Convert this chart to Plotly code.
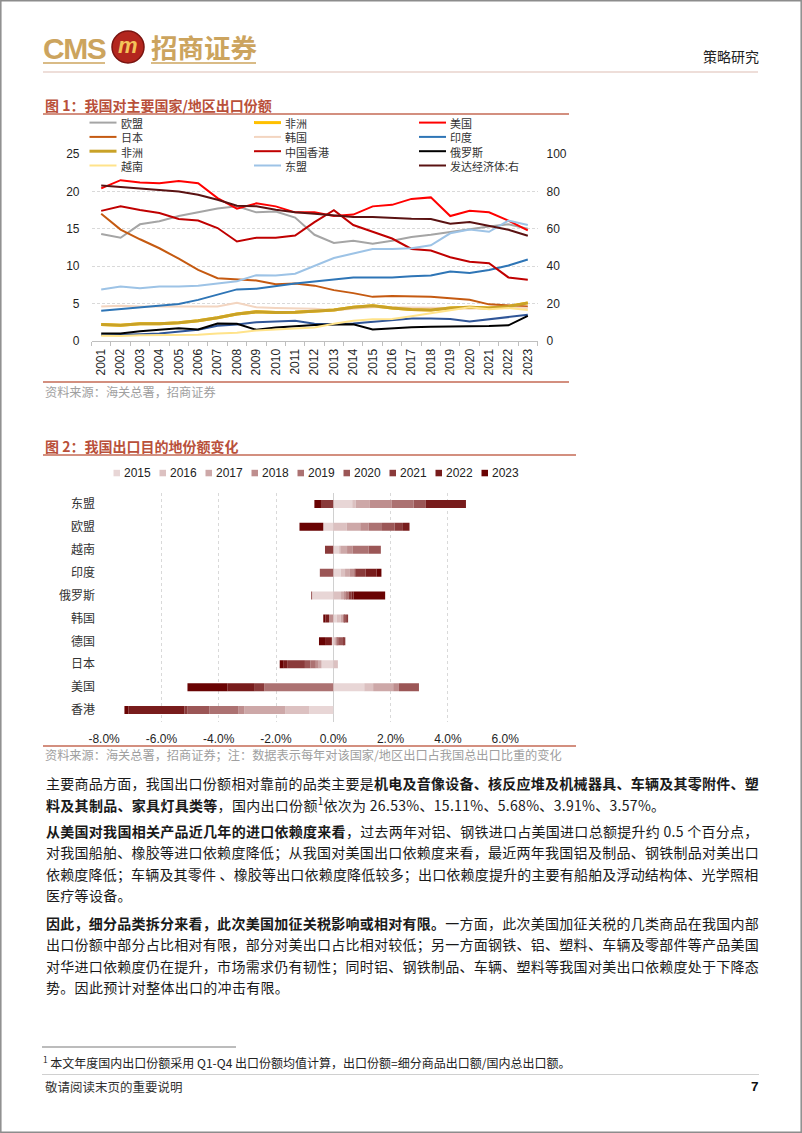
import re
import plotly.graph_objects as go

W, H = 802, 1133
def px(x): return x / W
def py(y): return 1 - y / H

CJK = "Noto Sans CJK SC"
ARIAL = "Liberation Sans, Arial"

# ---------------- Figure 1 data (share of China's exports, %) ----------------
years1 = [str(y) for y in range(2001, 2024)]
eu        = [14.3,13.8,15.6,16.0,16.7,17.2,17.7,18.0,17.2,17.3,16.5,14.2,13.1,13.4,13.0,13.4,13.9,14.2,14.6,15.0,15.3,15.6,15.0]
africa    = [2.2,2.1,2.3,2.3,2.45,2.7,3.1,3.6,3.9,3.8,3.85,4.05,4.15,4.5,4.7,4.4,4.2,4.15,4.4,4.5,4.4,4.6,5.1]
us        = [20.4,21.5,21.2,21.1,21.4,21.1,19.1,17.7,18.4,18.0,17.2,17.2,16.7,16.9,18.0,18.2,19.0,19.2,16.7,17.4,17.2,16.1,14.8]
japan     = [17.0,14.9,13.6,12.4,11.0,9.5,8.4,8.2,8.1,7.6,7.7,7.4,6.8,6.4,5.9,6.0,6.0,5.9,5.7,5.5,4.9,4.8,4.6]
korea     = [4.6,4.7,4.6,4.65,4.6,4.6,4.6,5.1,4.5,4.4,4.4,4.3,4.1,4.3,4.5,4.5,4.5,4.4,4.4,4.3,4.4,4.5,4.4]
india     = [0.8,0.8,0.9,1.0,1.2,1.5,2.05,2.2,2.5,2.6,2.7,2.3,2.25,2.35,2.6,2.8,3.0,3.0,2.95,2.6,2.9,3.25,3.5]
blue_mid  = [4.05,4.3,4.5,4.7,4.95,5.5,6.25,6.9,7.0,7.4,7.7,7.95,8.2,8.5,8.5,8.5,8.65,8.75,9.3,9.1,9.5,10.1,10.9]
hongkong  = [17.4,18.0,17.5,17.1,16.3,16.1,15.1,13.3,13.8,13.8,14.1,15.9,17.5,15.5,14.6,13.7,12.3,12.1,11.2,10.6,10.4,8.5,8.2]
russia    = [1.0,1.0,1.3,1.5,1.7,1.55,2.35,2.3,1.5,1.8,2.0,2.15,2.2,2.25,1.55,1.7,1.85,1.9,1.9,1.9,2.0,2.1,3.35]
vietnam   = [0.7,0.67,0.76,0.76,0.76,0.85,1.0,1.1,1.4,1.5,1.6,1.8,2.3,2.7,2.9,2.95,3.3,3.7,4.1,4.5,4.25,4.4,4.15]
asean     = [6.9,7.3,7.05,7.3,7.3,7.4,7.7,8.0,8.8,8.75,9.0,10.1,11.1,11.7,12.3,12.3,12.4,12.8,14.4,14.9,14.6,16.1,15.5]
developed = [83.2,82.3,81.4,80.9,80.0,78.2,75.5,72.3,72.0,70.2,68.8,68.0,67.0,66.3,66.3,65.7,65.4,65.2,62.7,63.6,61.6,59.5,56.3]

# legend entries: name, data, colour, width, right-axis
series1 = [
    ("欧盟", eu, "#A5A5A5", 2, False),
    ("非洲", africa, "#FFC000", 3, False),
    ("美国", us, "#FF0000", 2, False),
    ("日本", japan, "#C55A11", 2, False),
    ("韩国", korea, "#F3D5C0", 2, False),
    ("印度", blue_mid, "#2E75B6", 2, False),
    ("非洲", africa, "#C9A227", 3, False),
    ("中国香港", hongkong, "#C00000", 2, False),
    ("俄罗斯", russia, "#000000", 2, False),
    ("越南", vietnam, "#FFE38A", 2, False),
    ("东盟", asean, "#9DC3E6", 2, False),
    ("发达经济体:右", developed, "#5A1212", 2, True),
]
extra1 = ("印度(2)", india, "#2F5597", 2, False)
draw_order = series1[:6] + [extra1] + series1[6:]

# ---------------- Figure 2 data (change in share, %) ----------------
countries = ["东盟", "欧盟", "越南", "印度", "俄罗斯", "韩国", "德国", "日本", "美国", "香港"]
years2 = ["2015", "2016", "2017", "2018", "2019", "2020", "2021", "2022", "2023"]
chg_2015 = [0.66, -0.35, 0.21, 0.26, -0.74, 0.12, -0.05, -0.41, 1.08, -0.84]
chg_2016 = [0.12, 0.47, 0.05, 0.15, 0.27, 0.14, 0.07, 0.16, 0.31, -0.83]
chg_2017 = [0.48, 0.47, 0.22, 0.17, 0.14, 0.09, 0.04, -0.10, 0.70, -1.44]
chg_2018 = [0.78, 0.29, 0.20, 0.15, 0.06, -0.15, 0.03, -0.10, 0.20, -0.21]
chg_2019 = [0.76, 0.47, 0.55, 0.05, 0.06, 0.05, 0.05, -0.19, -2.41, -1.00]
chg_2020 = [0.43, 0.44, 0.43, -0.47, -0.03, 0.05, 0.18, -0.19, 0.70, -0.78]
chg_2021 = [-0.43, 0.29, -0.29, 0.35, 0.10, 0.06, 0.05, -0.62, -0.33, -0.10]
chg_2022 = [1.40, 0.23, 0.00, 0.38, 0.08, -0.12, -0.21, -0.12, -0.95, -1.95]
chg_2023 = [-0.23, -0.83, 0.00, 0.17, 1.10, -0.08, -0.24, -0.14, -1.40, -0.14]
changes = [chg_2015, chg_2016, chg_2017, chg_2018, chg_2019, chg_2020, chg_2021, chg_2022, chg_2023]
colors2 = ["#E8D6D6", "#DCC1C1", "#CDA8A8", "#BE8E8E", "#AC7272", "#9B5656", "#8A3A3A", "#781C1C", "#690303"]
xticks2 = [-8, -6, -4, -2, 0, 2, 4, 6]
xticklabels2 = ["-8.0%", "-6.0%", "-4.0%", "-2.0%", "0.0%", "2.0%", "4.0%", "6.0%"]

fig = go.Figure()

for name, data, color, width, right in draw_order:
    fig.add_trace(go.Scatter(
        x=years1, y=data, name=name, mode="lines",
        line=dict(color=color, width=width),
        xaxis="x", yaxis="y2" if right else "y", showlegend=False))

for yr, vals, col in zip(years2, changes, colors2):
    fig.add_trace(go.Bar(
        y=countries, x=vals, name=yr, orientation="h",
        marker=dict(color=col, line=dict(width=0)),
        xaxis="x2", yaxis="y3", showlegend=False))

# ---------------- shapes & annotations ----------------
shapes = []
ann = []

def hline(x0, x1, y, color, width=1):
    shapes.append(dict(type="line", xref="paper", yref="paper",
                       x0=px(x0), x1=px(x1), y0=py(y), y1=py(y),
                       line=dict(color=color, width=width)))

def text(x, y, s, size=12, color="#000", family=CJK, xanchor="left", yanchor="middle"):
    ann.append(dict(x=px(x), y=py(y), xref="paper", yref="paper", text=s,
                    showarrow=False, xanchor=xanchor, yanchor=yanchor, align="left",
                    borderpad=0, font=dict(size=size, color=color, family=family)))

# page border
shapes.append(dict(type="rect", xref="paper", yref="paper", x0=0.001, x1=0.999, y0=0.0007, y1=0.9993,
                   line=dict(color="#8C8C8C", width=1.5)))

# header
gold = "#CCA45E"
text(42, 48, '<span style="letter-spacing:-1.5px"><b>CMS</b></span>', size=30, color=gold, family=ARIAL)
shapes.append(dict(type="circle", xref="paper", yref="paper",
                   x0=px(112), x1=px(144), y0=py(63), y1=py(31),
                   fillcolor="#B3261E", line=dict(color="#7A1410", width=1.5)))
text(128, 46, "<b><i>m</i></b>", size=22, color="#F4C35A", family=ARIAL, xanchor="center")
text(150, 47, "<b>招商证券</b>", size=26.5, color=gold)
hline(43, 105, 63, gold, 1.5)
hline(151, 256, 63, gold, 1.5)
text(760, 56, "策略研究", size=14, color="#222", xanchor="right")
hline(43, 758, 72, "#DDBDB3", 1)

# figure titles / rules
title_col = "#B9503A"
rule_col = "#C46A55"
text(43.5, 105.0, "<b>图 1：我国对主要国家/地区出口份额</b>", size=14, color=title_col)
hline(43, 569, 114, rule_col, 1.3)
hline(43, 569, 382, rule_col, 1.3)
text(43.5, 392, "资料来源：海关总署，招商证券", size=12.2, color="#A0A0A0")

text(43.5, 446.5, "<b>图 2：我国出口目的地份额变化</b>", size=14, color=title_col)
hline(43, 576, 455, rule_col, 1.3)
hline(43, 576, 746, rule_col, 1.3)
text(43.5, 755, "资料来源：海关总署，招商证券；注：数据表示每年对该国家/地区出口占我国总出口比重的变化",
     size=12.2, color="#A0A0A0")

# figure 1 legend (3 columns x 4 rows); one text block per column
LEG_FS = 11
row_gap = 1.3 * LEG_FS
row0 = 122.6
col_x = [89.5, 254, 419]
for c in range(3):
    names = []
    for r in range(4):
        name, data, color, width, right = series1[r * 3 + c]
        yy = row0 + row_gap * r
        x0 = col_x[c]
        shapes.append(dict(type="line", xref="paper", yref="paper",
                           x0=px(x0), x1=px(x0 + 27), y0=py(yy), y1=py(yy),
                           line=dict(color=color, width=width)))
        names.append(name)
    text(col_x[c] + 30, row0 + row_gap * 1.5, "<br>".join(names), size=LEG_FS, color="#333")

# figure 2 legend (single row)
for i, (yr, col) in enumerate(zip(years2, colors2)):
    x0 = 113.5 + 46 * i
    shapes.append(dict(type="rect", xref="paper", yref="paper",
                       x0=px(x0), x1=px(x0 + 6.5), y0=py(476.3), y1=py(469.8),
                       fillcolor=col, line=dict(width=0)))
    text(x0 + 9, 473, yr, size=12, color="#222", family=ARIAL)

# body text
def units(s):
    s = re.sub(r"<[^>]+>", "", s)
    w = 0.0
    for ch in s:
        if ord(ch) >= 0x2E80 or ch in "，。、；：":
            w += 1.0
        elif ch.isdigit():
            w += 0.55
        elif ch == ".":
            w += 0.27
        elif ch == "%":
            w += 0.85
        elif ch == " ":
            w += 0.25
        else:
            w += 0.55
    return w, len(s)

FS = 14
LEFT, RIGHT = 44.5, 757
body = [
    ("主要商品方面，我国出口份额相对靠前的品类主要是<b>机电及音像设备、核反应堆及机械器具、车辆及其零附件、塑</b>", True, 783.5),
    ("<b>料及其制品、家具灯具类等</b>，国内出口份额<sup>1</sup>依次为 26.53%、15.11%、5.68%、3.91%、3.57%。", False, 804.8),
    ("<b>从美国对我国相关产品近几年的进口依赖度来看</b>，过去两年对铝、钢铁进口占美国进口总额提升约 0.5 个百分点，", True, 831.0),
    ("对我国船舶、橡胶等进口依赖度降低；从我国对美国出口依赖度来看，最近两年我国铝及制品、钢铁制品对美出口", True, 852.3),
    ("依赖度降低；车辆及其零件 、橡胶等出口依赖度降低较多；出口依赖度提升的主要有船舶及浮动结构体、光学照相", True, 873.6),
    ("医疗等设备。", False, 894.9),
    ("<b>因此，细分品类拆分来看，此次美国加征关税影响或相对有限。</b>一方面，此次美国加征关税的几类商品在我国内部", True, 923.0),
    ("出口份额中部分占比相对有限，部分对美出口占比相对较低；另一方面钢铁、铝、塑料、车辆及零部件等产品美国", True, 944.3),
    ("对华进口依赖度仍在提升，市场需求仍有韧性；同时铝、钢铁制品、车辆、塑料等我国对美出口依赖度处于下降态", True, 965.6),
    ("势。因此预计对整体出口的冲击有限。", False, 986.9),
]
for s, justify, yy in body:
    u, n = units(s)
    if justify:
        ls = (RIGHT - LEFT - u * FS) / max(n - 1, 1)
    else:
        ls = 0.3
    text(LEFT, yy, '<span style="letter-spacing:%.2fpx">%s</span>' % (ls, s), size=FS, color="#1A1A1A")

# footnote & footer
hline(42, 236, 1047, "#A6A6A6", 1.5)
text(42, 1062, "<sup>1</sup> 本文年度国内出口份额采用 Q1-Q4 出口份额均值计算，出口份额=细分商品出口额/国内总出口额。",
     size=12, color="#222")
hline(42, 759, 1074.5, "#D0D0D0", 1)
text(44, 1086, "敬请阅读末页的重要说明", size=12.5, color="#333")
text(760, 1086, "<b>7</b>", size=13.5, color="#111", family=ARIAL, xanchor="right")

# ---------------- layout ----------------
grid_col = "#D9D9D9"
tickfont = dict(size=12, color="#1F1F1F", family=ARIAL)
fig.update_layout(
    template="none",
    width=W, height=H, autosize=False,
    margin=dict(l=0, r=0, t=0, b=0, pad=0, autoexpand=False),
    paper_bgcolor="white", plot_bgcolor="rgba(0,0,0,0)",
    font=dict(family=CJK, size=12, color="#333"),
    showlegend=False, barmode="relative", bargap=0.65,
    shapes=shapes, annotations=ann,
    xaxis=dict(domain=[px(91.5), px(537.5)], anchor="y", type="category", automargin=False,
               range=[-0.5, 22.5], showline=True, linecolor="#BFBFBF", linewidth=1,
               ticks="outside", ticklen=4, tickcolor="#BFBFBF", tickson="boundaries",
               tickangle=-90, tickfont=tickfont, showgrid=False, ticklabelstandoff=2),
    yaxis=dict(domain=[py(341), py(154)], anchor="x", range=[0, 25], dtick=5, automargin=False,
               showgrid=True, gridcolor=grid_col, griddash="3px,2px", gridwidth=1,
               zeroline=False, showline=False, ticks="", tickfont=tickfont,
               ticklabelstandoff=11),
    yaxis2=dict(overlaying="y", side="right", anchor="x", range=[0, 100], dtick=20, automargin=False,
                showgrid=False, zeroline=False, showline=False, ticks="",
                tickfont=tickfont, ticklabelstandoff=8),
    xaxis2=dict(domain=[px(104.1), px(505.2)], anchor="y3", range=[-8, 6], automargin=False,
                tickvals=xticks2, ticktext=xticklabels2, showgrid=True,
                gridcolor=grid_col, griddash="dot", gridwidth=1,
                zeroline=True, zerolinecolor="#D0D0D0", zerolinewidth=1,
                showline=False, ticks="", tickfont=tickfont, ticklabelstandoff=8),
    yaxis3=dict(domain=[py(721.5), py(492.5)], anchor="x2", type="category", automargin=False,
                categoryorder="array", categoryarray=countries, autorange="reversed",
                showgrid=False, zeroline=False, showline=False, ticks="",
                tickfont=dict(size=12, color="#333", family=CJK), ticklabelstandoff=8),
)

fig.write_html(
    "out.html",
    config={"displayModeBar": False},
    post_script=("document.documentElement.style.margin='0';document.body.style.margin='0';"
                 "document.body.style.padding='0';document.documentElement.style.overflow='hidden';"
                 "document.body.style.overflow='hidden';"),
)
